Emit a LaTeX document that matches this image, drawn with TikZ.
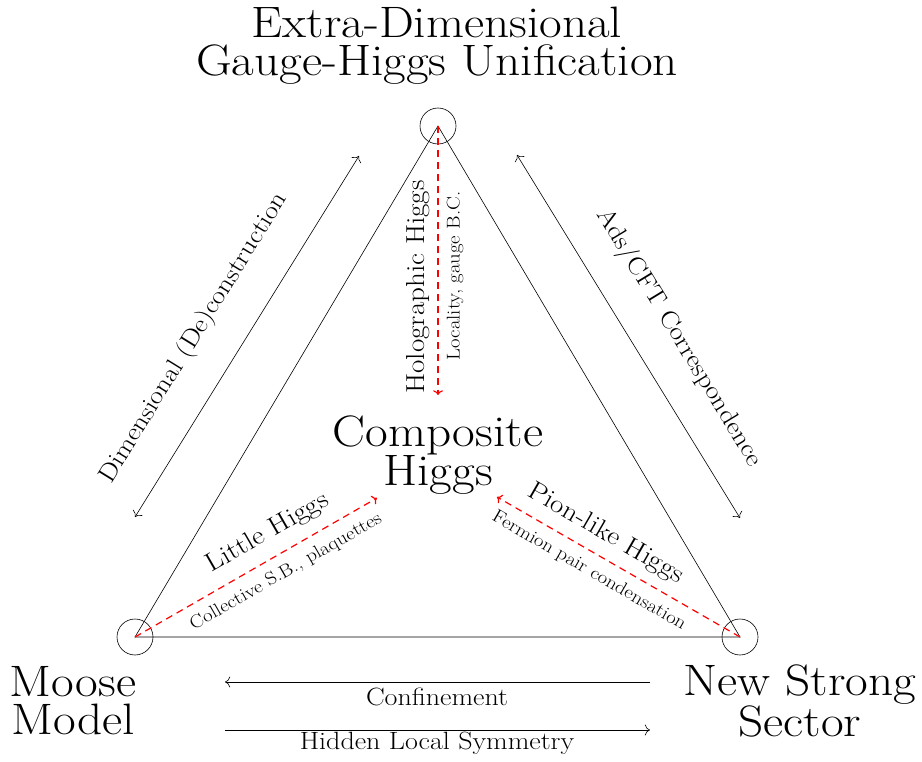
\documentclass[tikz,border=0pt]{standalone}
\usepackage{fontspec}
\setmainfont{Latin Modern Roman}[FakeStretch=1.12]
\usepackage{tikz}
\usetikzlibrary{arrows.meta}

\begin{document}
\begin{tikzpicture}[>={To[scale=1.8]}, x=1pt, y=-1pt, line width=0.6pt,
  corner/.style={circle,draw,minimum size=36pt,inner sep=0pt},
  big/.style={align=center,inner sep=0pt,font=\fontsize{44}{38}\selectfont},
  mid/.style={inner sep=0pt,font=\fontsize{26}{30}\selectfont},
  side/.style={inner sep=0pt,font=\fontsize{25}{30}\selectfont},
  small/.style={inner sep=0pt,font=\fontsize{18.5}{22}\selectfont},
  link/.style={<->},
  hint/.style={-{To[scale=1.1]},red,dashed,line width=1.2pt,dash pattern=on 7pt off 5pt}]
  \useasboundingbox (0,0) rectangle (922,762);
  % corners of the triangle
  \node[corner] (ed) at (438,126) {};
  \node[corner] (mm) at (135,637) {};
  \node[corner] (ns) at (740,637) {};
  \draw (ed.center) -- (mm.center) -- (ns.center) -- cycle;
  \node[big] (edtext) at (437,46) {Extra-Dimensional\\Gauge-Higgs Unification};
  \node[big] (mmtext) at (73,701) {Moose\\Model};
  \node[big] (nstext) at (800,701) {New Strong\\Sector};
  \node[big] (chtext) at (438,455) {Composite\\Higgs};
  % dashed arrows towards the composite Higgs
  \coordinate (edin) at (438,395);
  \coordinate (mmin) at (377,498);
  \coordinate (nsin) at (497,497);
  \draw[hint] (ed.center) -- (edin);
  \draw[hint] (mm.center) -- (mmin);
  \draw[hint] (ns.center) -- (nsin);
  \node[mid,rotate=90] (holo) at (418,287) {Holographic Higgs};
  \node[small,rotate=90] (loc) at (455,276) {Locality, gauge B.C.};
  \node[mid,rotate=30] (little) at (268,533) {Little Higgs};
  \node[small,rotate=30] (coll) at (286,572) {Collective S.B., plaquettes};
  \node[mid,rotate=-30] (pion) at (606,534) {Pion-like Higgs};
  \node[small,rotate=-30] (ferm) at (589,571) {Fermion pair condensation};
  % dualities along the sides
  \coordinate (l1) at (359,156);
  \coordinate (l2) at (135,517);
  \coordinate (r1) at (517,155);
  \coordinate (r2) at (740,518);
  \draw[link] (l1) -- (l2);
  \draw[link] (r1) -- (r2);
  \node[side,rotate=58.3] (dim) at (194,338) {Dimensional (De)construction};
  \node[side,rotate=-58.6] (ads) at (679,338) {Ads/CFT Correspondence};
  \coordinate (c1) at (650,682);
  \coordinate (c2) at (225,682);
  \coordinate (h1) at (225,730);
  \coordinate (h2) at (650,730);
  \draw[->] (c1) -- (c2);
  \draw[->] (h1) -- (h2);
  \node[side] (conf) at (437,697) {Confinement};
  \node[side] (hls) at (437,743) {Hidden Local Symmetry};
\end{tikzpicture}
\end{document}
